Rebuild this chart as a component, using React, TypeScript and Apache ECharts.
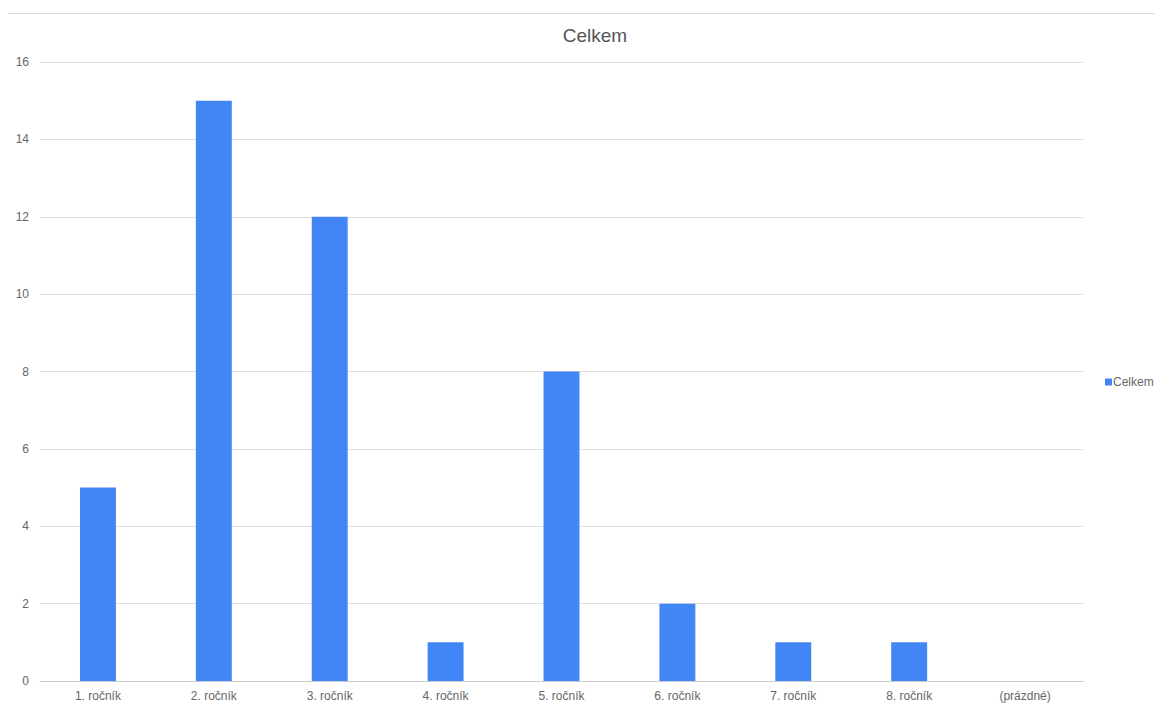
import React, { useEffect, useRef } from "react";
import * as echarts from "echarts";

const categories = ["1. ročník", "2. ročník", "3. ročník", "4. ročník", "5. ročník", "6. ročník", "7. ročník", "8. ročník", "(prázdné)"];
const values = [5, 15, 12, 1, 8, 2, 1, 1, null];
const seriesName = "Celkem";
const yTicks = { min: 0, max: 16, interval: 2 };

export default function App() {
  const ref = useRef<HTMLDivElement>(null);
  useEffect(() => {
    document.body.style.margin = "0";
    document.body.style.overflow = "hidden";
    if (!ref.current) return;
    const chart = echarts.init(ref.current, undefined, { renderer: "svg" });
    chart.setOption({
      animation: false,
      textStyle: { fontFamily: "'Liberation Sans', Arial, sans-serif" },
      title: {
        text: "Celkem",
        left: 590,
        top: 21,
        textAlign: "center",
        textStyle: { fontSize: 19, fontWeight: "normal", color: "#555", fontFamily: "'Liberation Sans', Arial, sans-serif" },
      },
      legend: {
        data: [seriesName],
        orient: "vertical",
        left: 1100,
        top: 371,
        itemWidth: 7,
        itemHeight: 7,
        itemGap: 4,
        icon: "rect",
        textStyle: { fontSize: 12, color: "#666", padding: [0, 0, 0, -4] },
      },
      grid: { left: 40, right: 72, top: 62, bottom: 30, containLabel: false },
      xAxis: {
        type: "category",
        data: categories,
        axisLine: { lineStyle: { color: "#ccc" } },
        axisTick: { show: false },
        axisLabel: { color: "#666", fontSize: 12, margin: 9 },
      },
      yAxis: {
        type: "value",
        min: yTicks.min,
        max: yTicks.max,
        interval: yTicks.interval,
        axisLine: { show: false },
        axisTick: { show: false },
        axisLabel: { color: "#666", fontSize: 12, margin: 11 },
        splitLine: { lineStyle: { color: "#e0e0e0" } },
      },
      series: [
        {
          name: seriesName,
          type: "bar",
          data: values,
          barWidth: "31%",
          itemStyle: { color: "#4285F4" },
        },
      ],
      graphic: [
        { type: "line", shape: { x1: 8, y1: 13.5, x2: 1155, y2: 13.5 }, style: { stroke: "#ddd", lineWidth: 1 } },
      ],
    });
    return () => chart.dispose();
  }, []);
  return <div ref={ref} style={{ width: 1155, height: 711 }} />;
}
